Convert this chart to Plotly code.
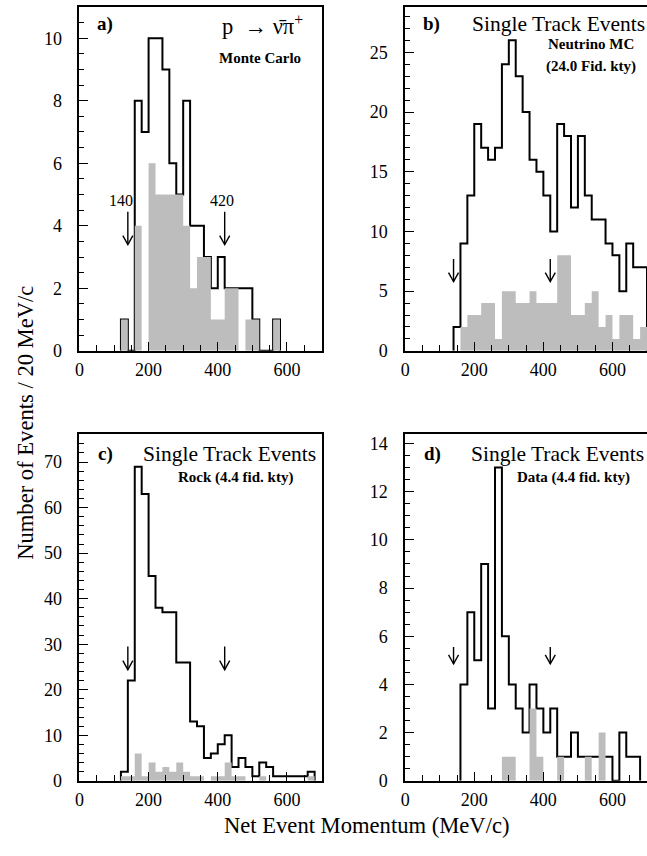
import plotly.graph_objects as go

# ---------------- data (20 MeV/c bins, left edges 0..680) ----------------
bin_left = list(range(0, 700, 20))
x_max = 700

a_outline = [0, 0, 0, 0, 0, 0, 1, 0, 8, 7, 10, 10, 9, 6, 5, 8, 4, 4, 3, 2, 3, 2, 2, 2, 2, 1, 0, 0, 1, 0, 0, 0, 0, 0, 0]
a_gray = [0, 0, 0, 0, 0, 0, 1, 0, 4, 0, 6, 5, 5, 5, 5, 4, 2, 3, 3, 1, 1, 2, 2, 0, 1, 1, 0, 0, 1, 0, 0, 0, 0, 0, 0]

b_outline = [0, 0, 0, 0, 0, 0, 0, 2, 9, 13, 19, 17, 16, 17, 24, 26, 23, 20, 16, 15, 13, 10, 19, 18, 12, 18, 13, 11, 11, 9, 8, 5, 9, 7, 7]
b_gray = [0, 0, 0, 0, 0, 0, 0, 0, 2, 3, 3, 4, 4, 1, 5, 5, 4, 4, 5, 4, 4, 4, 8, 8, 3, 3, 4, 5, 2, 3, 1, 3, 3, 1, 2]

c_outline = [0, 0, 0, 0, 0, 0, 2, 22, 69, 63, 45, 38, 37, 37, 26, 26, 13, 12, 5, 6, 8, 10, 3, 5, 3, 1, 4, 3, 1, 1, 1, 1, 1, 2, 0]
c_gray = [0, 0, 0, 0, 0, 0, 1, 1, 6, 1, 4, 2, 3, 2, 4, 2, 1, 1, 0, 1, 1, 4, 1, 1, 0, 0, 1, 0, 0, 0, 0, 0, 0, 1, 0]

d_outline = [0, 0, 0, 0, 0, 0, 0, 0, 4, 7, 5, 9, 3, 13, 6, 4, 3, 2, 4, 3, 2, 3, 1, 1, 2, 1, 1, 1, 1, 1, 0, 2, 1, 1, 0]
d_gray = [0, 0, 0, 0, 0, 0, 0, 0, 0, 0, 0, 0, 0, 0, 1, 1, 0, 0, 3, 1, 0, 0, 1, 0, 0, 0, 1, 0, 2, 0, 0, 0, 0, 0, 0]

cuts = [140, 420]
arrow_top = [4.45, 7.7, 29.5, 5.55]
arrow_tip = [3.4, 5.8, 24.4, 4.85]

y_ranges = [11, 28.8, 76.2, 14.4]
y_major = [2, 5, 10, 2]
y_minor = [0.5, 1, 2, 0.5]
x_tickvals = [0, 200, 400, 600]

# ---------------- layout helpers ----------------
W, H = 647, 856
def px(x):
    return x / W
def py(y):
    return 1 - y / H

FONT = "Liberation Serif, Times New Roman, serif"
GRAY = "#bdbdbd"

xdom_left = [px(75), px(319)]
xdom_right = [px(403.3), 1.0]
ydom_top = [py(355), py(7)]
ydom_bot = [py(790), py(439)]

panels = [
    dict(out=a_outline, gray=a_gray, xd=xdom_left, yd=ydom_top),
    dict(out=b_outline, gray=b_gray, xd=xdom_right, yd=ydom_top),
    dict(out=c_outline, gray=c_gray, xd=xdom_left, yd=ydom_bot),
    dict(out=d_outline, gray=d_gray, xd=xdom_right, yd=ydom_bot),
]


def step_xy(values):
    """Histogram outline from the first to the last non-empty bin."""
    nz = [k for k, v in enumerate(values) if v > 0]
    i0, i1 = nz[0], nz[-1]
    lefts = bin_left[i0:i1 + 1]
    right = bin_left[i1] + 20
    xs = [lefts[0]] + lefts + [right]
    ys = [0] + values[i0:i1 + 1] + [0]
    return xs, ys


fig = go.Figure()
shapes = []
layout_axes = {}

for i, p in enumerate(panels):
    n = "" if i == 0 else str(i + 1)
    xref, yref = "x" + n, "y" + n
    xs, ys = step_xy(p["out"])
    fig.add_trace(go.Scatter(
        x=xs, y=ys, mode="lines", line_shape="hv",
        line=dict(color="black", width=2), xaxis=xref, yaxis=yref,
        hoverinfo="skip"))
    gx, gy = step_xy(p["gray"])
    fig.add_trace(go.Scatter(
        x=gx, y=gy, mode="lines", line_shape="hv",
        line=dict(color=GRAY, width=0), fill="tozeroy", fillcolor=GRAY,
        xaxis=xref, yaxis=yref, hoverinfo="skip"))

    layout_axes["xaxis" + n] = dict(
        domain=p["xd"], anchor=yref, range=[0, x_max],
        showline=True, mirror=True, linecolor="black", linewidth=1.6,
        showgrid=False, zeroline=False,
        tickmode="array", tickvals=x_tickvals,
        ticks="inside", ticklen=9, tickwidth=1.3, tickcolor="black",
        minor=dict(ticks="inside", dtick=50, tick0=0, ticklen=6,
                   tickwidth=1.2, tickcolor="black"),
        tickfont=dict(family=FONT, size=18, color="black"),
        ticklabelstandoff=2)
    layout_axes["yaxis" + n] = dict(
        domain=p["yd"], anchor=xref, range=[0, y_ranges[i]],
        showline=True, mirror=(i % 2 == 0), linecolor="black", linewidth=1.6,
        showgrid=False, zeroline=False,
        tickmode="linear", tick0=0, dtick=y_major[i],
        ticks="inside", ticklen=9, tickwidth=1.3, tickcolor="black",
        minor=dict(ticks="inside", dtick=y_minor[i], tick0=0, ticklen=5,
                   tickwidth=1.2, tickcolor="black"),
        tickfont=dict(family=FONT, size=18, color="black"),
        ticklabelstandoff=12)

    for c in cuts:
        shapes.append(dict(type="line", xref=xref, yref=yref,
                           x0=c, x1=c, y0=arrow_top[i], y1=arrow_tip[i],
                           line=dict(color="black", width=1.4)))
        shapes.append(dict(type="path", xref=xref, yref=yref,
                           xsizemode="pixel", ysizemode="pixel",
                           xanchor=c, yanchor=arrow_tip[i],
                           path="M -5,9 L 0,0 L 5,9",
                           line=dict(color="black", width=1.4)))

ann = []
def text(x, y, s, size, xanchor="center", bold=False):
    ann.append(dict(x=px(x), y=py(y), xref="paper", yref="paper",
                    text=("<b>%s</b>" % s) if bold else s, showarrow=False,
                    xanchor=xanchor, yanchor="middle",
                    font=dict(family=FONT, size=size, color="black")))

SMALL = 15
# panel a
text(101, 24, "a)", 19, bold=True)
text(260, 25, "p  \u2192 \u03bd\u0304\u03c0<sup>+</sup>", 22.5)
text(257, 59, "Monte Carlo", SMALL, bold=True)
text(117, 203, "140", 16)
text(219, 203, "420", 16)
# panel b
text(430, 24, "b)", 19, bold=True)
text(469, 24, "Single Track Events", 21.5, xanchor="left")
text(591, 45, "Neutrino MC", SMALL, bold=True)
text(591, 67, "(24.0 Fid. kty)", SMALL, bold=True)
# panel c
text(101, 459, "c)", 19, bold=True)
text(137, 459, "Single Track Events", 21.5, xanchor="left")
text(232, 483, "Rock (4.4 fid. kty)", SMALL, bold=True)
# panel d
text(431, 459, "d)", 19, bold=True)
text(468, 459, "Single Track Events", 21.5, xanchor="left")
text(573, 483, "Data (4.4 fid. kty)", SMALL, bold=True)

# axis titles
text(365, 835, "Net Event Momentum (MeV/c)", 22.6)
ann.append(dict(x=px(20), y=py(428), xref="paper", yref="paper",
                text="Number of Events / 20 MeV/c", showarrow=False,
                textangle=-90, xanchor="center", yanchor="middle",
                font=dict(family=FONT, size=22.6, color="black")))

fig.update_layout(
    width=W, height=H, margin=dict(l=0, r=0, t=0, b=0),
    plot_bgcolor="white", paper_bgcolor="white", showlegend=False,
    shapes=shapes, annotations=ann, **layout_axes)

fig.write_html("out.html")
